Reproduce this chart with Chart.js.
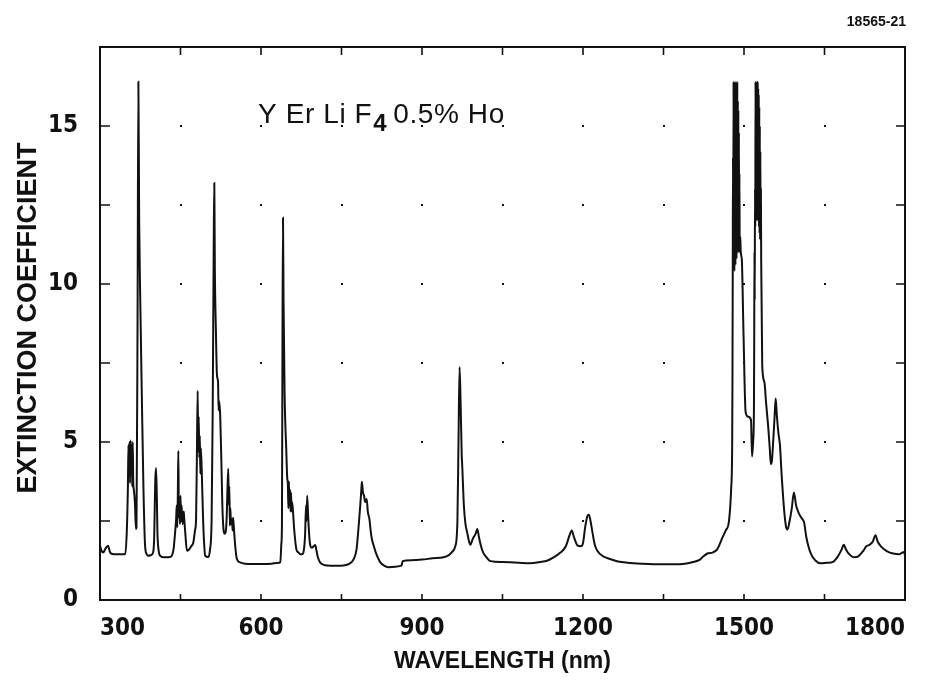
<!DOCTYPE html>
<html>
<head>
<meta charset="utf-8">
<script src="https://cdn.jsdelivr.net/npm/chart.js@4.4.0/dist/chart.umd.min.js"></script>
<style>
  html, body { margin: 0; padding: 0; background: #fff; }
  #wrap { width: 942px; height: 680px; position: relative; }
</style>
</head>
<body>
<div id="wrap"><canvas id="c" width="942" height="680"></canvas></div>
<script>
// ---- Data ----
const wavelength = [
  300,303,306,310,315,319,325,335,347,350,
  352,353,354,355,356,357,358,359,360,361,
  362,363,365,367,368,370,371.5,373,375,378,
  381,384,387,390,395,399,401,403,404.5,406,
  407,409,412,420,431,437,440,442,443,444,
  445,446,447,448,449,450,451,452,454,456,
  457,459,462,466,470,474,477,479,480.5,482,
  483,484,485,486,487,488,490,492,494,496,
  502,505,508,510,512,513,514,516,518,520,
  521,522,524,526,528,530,532,534,536,537.5,
  539,540,541,542,543,544,546,547,548,550,
  552,555,561,570,585,602,620,630,636,638,
  639,640,641,642,644,647,649,650,651,652,
  653,654,655,656,657,658,660,662,666,670,
  673,677,679,682,684,685,686,688,690,692,
  695,698,701,703,706,710,716,723,740,754,
  765,773,778,782,785,787,788,790,792,794,
  797,799,802,805,807,810,815,822,830,837,
  850,860,862,864,880,900,920,940,950,956,
  962,966,968,970,972,974,975,978,981,984,
  987,990,995,1000,1003,1006,1010,1014,1018,1028,
  1050,1080,1100,1120,1134,1145,1158,1168,1175,1179,
  1183,1190,1196,1200,1204,1208,1211,1214,1218,1222,
  1227,1236,1246,1265,1283,1310,1345,1370,1390,1405,
  1418,1425,1433,1441,1450,1460,1466,1472,1476,1478,
  1478.5,1479,1479.5,1480,1480.5,1481,1481.5,1482,1482.5,1483,
  1483.5,1484,1484.5,1485,1485.5,1486,1486.5,1487,1487.5,1488,
  1488.5,1489,1489.5,1490,1490.5,1491,1491.5,1492,1493,1494,
  1496,1499,1503,1508,1513,1515,1517,1518.5,1519,1519.5,
  1520,1520.5,1521,1521.5,1522,1522.5,1523,1523.5,1524,1524.5,
  1525,1525.5,1526,1526.5,1527,1527.5,1528,1528.5,1529,1529.5,
  1530,1530.5,1531,1531.5,1532,1534,1538,
  1541,1545,1548,1550,1552,1555,1557,1559,1561,1564,
  1567,1570,1575,1578,1581,1585,1589,1593,1597,1602,
  1607,1612,1616,1620,1625,1633,1643,1655,1665,1675,
  1682,1686,1690,1696,1705,1713,1722,1728,1734,1740,
  1745,1749,1756,1766,1778,1790,1795,1798,1800
];
const extinction = [
  1.72,1.55,1.5,1.62,1.72,1.5,1.45,1.45,1.45,2.2,
  3.6,4.9,3.9,5.0,3.7,5.05,4.0,4.9,3.6,5.0,
  3.7,3.5,3.1,2.25,2.3,9.0,16.4,12.0,9.5,6.4,
  3.5,1.72,1.45,1.4,1.42,1.5,2.0,3.8,4.18,3.2,
  2.15,1.6,1.4,1.35,1.36,1.6,2.15,2.6,3.0,2.3,
  3.3,4.72,2.6,3.2,2.4,3.3,2.5,3.0,2.4,2.8,
  2.56,2.1,1.56,1.6,1.7,1.83,2.2,2.56,4.5,6.62,
  4.7,5.8,4.5,5.2,4.0,4.8,3.83,2.6,1.8,1.4,
  1.36,1.6,2.56,6.0,11.5,13.2,10.5,8.5,7.1,6.9,
  6.0,6.3,5.83,4.5,3.0,2.25,2.1,2.14,2.6,3.5,
  4.15,3.0,3.6,2.35,2.9,2.4,2.56,2.2,2.6,2.15,
  1.7,1.3,1.19,1.15,1.14,1.14,1.15,1.17,1.19,1.8,
  2.35,8.0,12.1,9.5,6.5,4.8,3.83,3.7,2.9,3.75,
  3.0,3.5,2.8,3.4,2.8,3.1,2.7,2.2,1.6,1.5,
  1.45,1.45,1.5,2.0,3.0,2.5,3.3,2.6,2.0,1.72,
  1.65,1.7,1.74,1.6,1.35,1.19,1.12,1.09,1.08,1.09,
  1.15,1.3,1.6,2.35,3.0,3.5,3.74,3.4,3.3,3.1,
  3.2,2.8,2.56,2.1,1.9,1.72,1.45,1.2,1.08,1.04,
  1.05,1.08,1.1,1.23,1.26,1.28,1.32,1.35,1.42,1.52,
  1.7,2.5,5.0,7.37,6.2,4.6,4.24,3.0,2.4,2.15,
  1.9,1.75,1.95,2.1,2.25,2.0,1.7,1.5,1.4,1.23,
  1.2,1.18,1.16,1.2,1.25,1.35,1.5,1.7,2.05,2.2,
  2.0,1.72,1.7,1.8,2.3,2.65,2.7,2.5,2.1,1.75,
  1.55,1.4,1.32,1.22,1.18,1.15,1.13,1.13,1.15,1.2,
  1.28,1.39,1.48,1.5,1.6,1.98,2.2,2.5,3.5,4.97,
  7.0,10.2,14.0,10.4,16.4,10.6,16.4,10.4,16.3,10.8,
  16.4,10.6,16.2,11.0,16.4,10.8,16.0,11.2,16.4,11.0,
  15.8,11.4,15.5,11.0,14.8,11.2,13.5,11.0,11.5,11.0,
  10.75,8.5,5.95,5.8,5.7,4.54,5.0,6.0,8.0,11.0,
  9.5,13.0,11.8,16.4,12.2,16.4,12.0,16.3,12.4,16.4,
  12.2,16.4,12.0,16.2,12.2,16.0,11.8,15.6,11.6,15.0,
  11.4,14.2,11.6,13.0,10.8,7.4,6.9,
  6.27,5.5,4.8,4.3,4.4,5.2,5.8,6.38,5.9,5.3,
  4.9,4.0,2.8,2.35,2.23,2.5,2.9,3.4,3.0,2.75,
  2.6,2.45,2.0,1.7,1.45,1.25,1.16,1.18,1.2,1.38,
  1.6,1.75,1.6,1.45,1.35,1.38,1.55,1.7,1.75,1.85,
  2.05,1.85,1.68,1.55,1.47,1.45,1.5,1.52,1.42
];
const xTickLabels = [300, 600, 900, 1200, 1500, 1800];
const yTickLabels = [0, 5, 10, 15];
const xTitle = 'WAVELENGTH (nm)';
const yTitle = 'EXTINCTION COEFFICIENT';
const figureId = '18565-21';

const points = wavelength.map((w, i) => ({ x: w, y: extinction[i] }));

const INK = '#111';
const tickFont = { family: '"DejaVu Sans Condensed", "Liberation Sans", Arial, sans-serif', size: 24, weight: 'bold' };

const framePlugin = {
  id: 'frame',
  beforeDatasetsDraw(chart) {
    const { ctx, scales: { x, y } } = chart;
    ctx.save();
    ctx.fillStyle = INK;
    for (let w = 450; w <= 1650; w += 150) {
      for (let v = 2.5; v <= 15; v += 2.5) {
        ctx.fillRect(Math.round(x.getPixelForValue(w)) - 1, Math.round(y.getPixelForValue(v)) - 1, 2, 2);
      }
    }
    ctx.restore();
  },
  afterDraw(chart) {
    const { ctx, chartArea: a, scales: { x, y } } = chart;
    ctx.save();
    ctx.strokeStyle = INK;
    ctx.lineWidth = 2;
    ctx.strokeRect(a.left, a.top, a.right - a.left, a.bottom - a.top);
    ctx.lineWidth = 1.6;
    ctx.beginPath();
    for (let w = 450; w < 1800; w += 150) {
      const px = x.getPixelForValue(w);
      ctx.moveTo(px, a.bottom); ctx.lineTo(px, a.bottom - 6);
      ctx.moveTo(px, a.top); ctx.lineTo(px, a.top + 8);
    }
    for (let v = 2.5; v < 17.5; v += 2.5) {
      const py = y.getPixelForValue(v);
      ctx.moveTo(a.left, py); ctx.lineTo(a.left + 10, py);
      ctx.moveTo(a.right, py); ctx.lineTo(a.right - 9, py);
    }
    ctx.stroke();

    // y-axis title
    ctx.fillStyle = INK;
    ctx.font = 'bold 27px "Liberation Sans", Arial, sans-serif';
    ctx.textAlign = 'center';
    ctx.textBaseline = 'middle';
    ctx.save();
    ctx.translate(29, 318);
    ctx.rotate(-Math.PI / 2);
    ctx.fillText(yTitle, 0, 0);
    ctx.restore();

    // figure id
    ctx.font = 'bold 14px "Liberation Sans", Arial, sans-serif';
    ctx.textAlign = 'right';
    ctx.textBaseline = 'alphabetic';
    ctx.fillText(figureId, 906, 26);

    // sample annotation with subscript
    ctx.letterSpacing = '0.6px';
    ctx.font = '28px "Liberation Sans", Arial, sans-serif';
    ctx.textAlign = 'left';
    let tx = 258;
    const base = 123;
    const s1 = 'Y Er Li F';
    ctx.fillText(s1, tx, base);
    tx += ctx.measureText(s1).width + 1;
    ctx.font = 'bold 24px "Liberation Sans", Arial, sans-serif';
    ctx.fillText('4', tx, base + 8);
    tx += ctx.measureText('4').width + 6;
    ctx.font = '28px "Liberation Sans", Arial, sans-serif';
    ctx.fillText('0.5% Ho', tx, base);
    ctx.letterSpacing = '0px';
    ctx.restore();
  }
};

new Chart(document.getElementById('c'), {
  type: 'line',
  data: {
    datasets: [{
      data: points,
      borderColor: INK,
      borderWidth: 2,
      pointRadius: 0,
      fill: false,
      cubicInterpolationMode: 'monotone'
    }]
  },
  options: {
    responsive: false,
    animation: false,
    devicePixelRatio: 1,
    layout: { padding: { top: 47, right: 37, left: 0, bottom: 0 } },
    plugins: { legend: { display: false }, tooltip: { enabled: false } },
    scales: {
      x: {
        type: 'linear',
        min: 300, max: 1800,
        afterFit(s) { s.height = 80; },
        afterBuildTicks(s) { s.ticks = xTickLabels.map(v => ({ value: v })); },
        grid: { display: false },
        border: { display: false },
        ticks: {
          color: INK, font: tickFont, padding: 6, align: 'inner',
          autoSkip: false, maxRotation: 0,
          callback: v => String(v)
        },
        title: {
          display: true, text: xTitle, color: INK,
          font: { family: '"Liberation Sans", Arial, sans-serif', size: 23, weight: 'bold' },
          padding: { top: 0, bottom: 5 }
        }
      },
      y: {
        type: 'linear',
        min: 0, max: 17.5,
        afterFit(s) { s.width = 100; },
        afterBuildTicks(s) { s.ticks = yTickLabels.map(v => ({ value: v })); },
        grid: { display: false },
        border: { display: false },
        ticks: { color: INK, font: tickFont, padding: 14, callback: v => String(v) }
      }
    }
  },
  plugins: [framePlugin]
});
</script>
</body>
</html>
